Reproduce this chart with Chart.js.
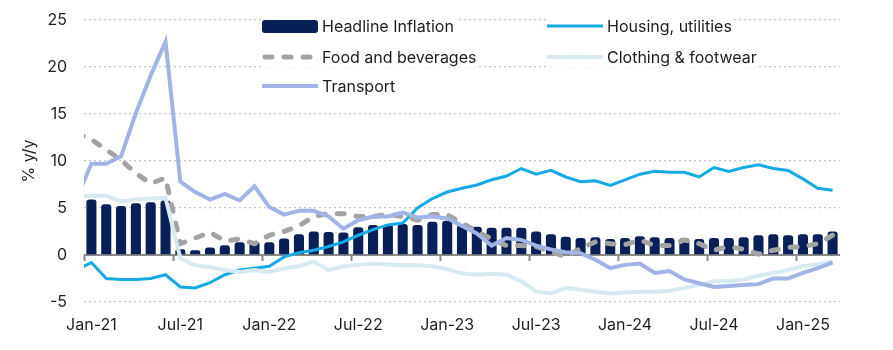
<!DOCTYPE html>
<html>
<head>
<meta charset="utf-8">
<script src="https://cdn.jsdelivr.net/npm/chart.js@4"></script>
<style>
  html, body { margin: 0; padding: 0; background: #fff; }
  #wrap { width: 893px; height: 350px; position: relative; }
</style>
</head>
<body>
<div id="wrap"><canvas id="cpiChart"></canvas></div>
<script>
// months Dec-20 .. Mar-25 (Dec-20 only feeds the clipped line stubs at the left edge)
const monthNames = ['Jan', 'Feb', 'Mar', 'Apr', 'May', 'Jun', 'Jul', 'Aug', 'Sep', 'Oct', 'Nov', 'Dec'];
const labels = [];
for (let k = -1; k <= 50; k++) {
    labels.push(monthNames[(k % 12 + 12) % 12] + '-' + (21 + Math.floor(k / 12)));
}

const yTicks = [25, 20, 15, 10, 5, 0, -5];

const headline = [null,
    5.9, 5.4, 5.2, 5.5, 5.6, 5.8, 0.6, 0.5, 0.8, 1.05, 1.35, 1.4,
    1.35, 1.75, 2.2, 2.5, 2.45, 2.4, 2.95, 3.2, 3.25, 3.3, 3.2, 3.55,
    3.65, 3.2, 3.0, 2.9, 2.9, 2.9, 2.5, 2.2, 1.95, 1.8, 1.9, 1.7,
    1.8, 2.0, 1.9, 1.8, 1.8, 1.7, 1.8, 1.8, 1.9, 2.1, 2.2, 2.1,
    2.2, 2.2, 2.5];
const housing = [-1.6,
    -0.8, -2.5, -2.6, -2.6, -2.5, -2.1, -3.4, -3.5, -2.95, -2.1, -1.6, -1.4,
    -1.2, -0.2, 0.25, 0.5, 0.9, 1.4, 2.1, 2.7, 3.2, 3.4, 5.0, 6.0,
    6.7, 7.1, 7.45, 8.0, 8.4, 9.2, 8.6, 9.0, 8.3, 7.8, 7.9, 7.4,
    8.0, 8.6, 8.9, 8.8, 8.8, 8.3, 9.3, 8.9, 9.3, 9.6, 9.2, 9.0,
    8.1, 7.1, 6.9];
const food = [12.9,
    12.3, 11.2, 10.1, 8.7, 7.6, 8.2, 1.2, 1.8, 2.4, 1.5, 1.7, 1.2,
    2.1, 2.5, 3.1, 4.1, 4.4, 4.4, 4.1, 4.1, 4.3, 4.1, 3.7, 4.3,
    4.3, 3.4, 2.5, 1.7, 1.0, 1.0, 0.9, 0.35, -0.2, 0.7, 1.4, 1.2,
    1.1, 1.6, 1.0, 1.0, 1.6, 1.2, 0.5, 0.9, 0.6, 0.1, 0.5, 0.8,
    0.9, 1.2, 2.1];
const clothing = [6.2,
    6.3, 6.3, 5.7, 5.9, 6.0, 6.1, -0.35, -1.1, -1.3, -1.6, -1.8, -1.6,
    -1.8, -1.4, -1.2, -0.7, -1.6, -1.2, -1.05, -0.9, -1.0, -1.1, -1.1, -1.2,
    -1.5, -1.95, -2.1, -2.0, -2.1, -2.8, -3.9, -4.1, -3.5, -3.7, -3.9, -4.1,
    -4.0, -3.9, -3.9, -3.8, -3.5, -3.2, -2.8, -2.8, -2.6, -2.2, -1.9, -1.6,
    -1.2, -0.95, -0.7];
const transport = [6.0,
    9.7, 9.7, 10.5, 15.1, 19.1, 22.7, 7.8, 6.7, 5.9, 6.5, 5.8, 7.3,
    5.1, 4.3, 4.7, 4.7, 4.1, 2.8, 3.7, 4.1, 4.1, 4.5, 4.0, 4.1,
    3.9, 3.1, 2.3, 1.0, 1.8, 1.6, 1.0, 0.6, 0.3, 0.2, -0.5, -1.4,
    -1.05, -0.9, -1.9, -1.7, -2.6, -3.0, -3.4, -3.3, -3.2, -3.1, -2.5, -2.5,
    -1.9, -1.4, -0.8];

const FONT = 'Inter, "Noto Sans", sans-serif';
const TEXT = '#1e1e1e';

// legend slots [x, y] in canvas px, same order as datasets
const legendSlots = [[262, 26], [547, 26], [262, 57], [547, 57], [262, 86]];

const overlay = {
    id: 'overlay',
    beforeDatasetsDraw(chart) {
        const { ctx, chartArea: a, scales: { x, y } } = chart;
        const y0 = y.getPixelForValue(0);
        const half = (x.getPixelForValue(2) - x.getPixelForValue(1)) / 2;
        ctx.save();
        ctx.strokeStyle = '#8a8a8a';
        ctx.lineWidth = 2;
        ctx.beginPath();
        ctx.moveTo(a.left, y0);
        ctx.lineTo(a.right, y0);
        labels.forEach((l, i) => {
            if (i >= 1 && (l.startsWith('Jan') || l.startsWith('Jul'))) {
                const px = Math.round(x.getPixelForValue(i) - half) + 0.5;
                ctx.moveTo(px, y0);
                ctx.lineTo(px, y0 + 6);
            }
        });
        ctx.stroke();
        ctx.restore();
    },
    afterDraw(chart) {
        const ctx = chart.ctx;
        ctx.save();
        ctx.font = '16px ' + FONT;
        ctx.textBaseline = 'middle';
        chart.data.datasets.forEach((ds, i) => {
            const [lx, ly] = legendSlots[i];
            const tw = ctx.measureText(ds.label).width;
            ctx.fillStyle = '#fff';
            ctx.fillRect(lx, ly - 10, 62 + tw, 20);
            if (ds.type === 'bar') {
                ctx.fillStyle = ds.backgroundColor;
                ctx.beginPath();
                ctx.roundRect(lx, ly - 6, 56, 13, 3);
                ctx.fill();
            } else {
                ctx.strokeStyle = ds.borderColor;
                ctx.lineWidth = ds.borderWidth;
                ctx.lineCap = ds.borderDash ? 'round' : 'butt';
                ctx.setLineDash(ds.borderDash || []);
                ctx.beginPath();
                ctx.moveTo(lx + (ds.borderDash ? 3 : 0), ly);
                ctx.lineTo(lx + 56, ly);
                ctx.stroke();
                ctx.setLineDash([]);
            }
            ctx.fillStyle = TEXT;
            ctx.fillText(ds.label, lx + 60, ly + 1);
        });
        ctx.restore();
    }
};

const myChart = new Chart(document.getElementById('cpiChart').getContext('2d'), {
    data: {
        labels: labels,
        datasets: [
            {
                type: 'bar',
                label: 'Headline Inflation',
                data: headline,
                backgroundColor: '#0a1f57',
                barPercentage: 0.68,
                categoryPercentage: 1,
                borderRadius: { topLeft: 3, topRight: 3 },
                borderSkipped: 'bottom',
                order: 5
            },
            {
                type: 'line',
                label: 'Housing, utilities',
                data: housing,
                borderColor: '#15a9e5',
                borderWidth: 3,
                pointRadius: 0,
                tension: 0,
                order: 4
            },
            {
                type: 'line',
                label: 'Food and beverages',
                data: food,
                borderColor: '#a3a3a3',
                borderWidth: 5,
                borderDash: [7, 12],
                borderCapStyle: 'round',
                pointRadius: 0,
                tension: 0,
                order: 3
            },
            {
                type: 'line',
                label: 'Clothing & footwear',
                data: clothing,
                borderColor: '#d8eaf1',
                borderWidth: 4,
                pointRadius: 0,
                tension: 0,
                order: 2
            },
            {
                type: 'line',
                label: 'Transport',
                data: transport,
                borderColor: '#a2b3e6',
                borderWidth: 4,
                pointRadius: 0,
                tension: 0,
                order: 1
            }
        ]
    },
    options: {
        responsive: true,
        maintainAspectRatio: false,
        animation: false,
        layout: { padding: { left: 10, right: 53, top: 20, bottom: 0 } },
        plugins: {
            legend: { display: false },
            tooltip: { enabled: false }
        },
        scales: {
            x: {
                type: 'category',
                min: 'Jan-21',
                offset: true,
                afterFit: (s) => { s.height = 48; },
                grid: { display: false, drawTicks: false },
                border: { display: false },
                ticks: {
                    autoSkip: false,
                    maxRotation: 0,
                    padding: 14,
                    color: TEXT,
                    font: { family: FONT, size: 16 },
                    callback: function (v) {
                        const l = this.getLabelForValue(v);
                        return (l.startsWith('Jan') || l.startsWith('Jul')) ? l : '';
                    }
                }
            },
            y: {
                min: -5,
                max: 25,
                afterFit: (s) => { s.width = 74; s.paddingTop = 0; s.paddingBottom = 0; },
                afterBuildTicks: (s) => { s.ticks = yTicks.map(v => ({ value: v })); },
                grid: { color: '#c6c6c6', lineWidth: 1.3, drawTicks: false },
                border: { display: false, dash: [2, 3] },
                ticks: {
                    padding: 17,
                    color: TEXT,
                    font: { family: FONT, size: 16 }
                },
                title: {
                    display: true,
                    text: '% y/y',
                    color: TEXT,
                    padding: { top: 10, bottom: 0 },
                    font: { family: FONT, size: 16 }
                }
            }
        }
    },
    plugins: [overlay]
});
</script>
</body>
</html>
